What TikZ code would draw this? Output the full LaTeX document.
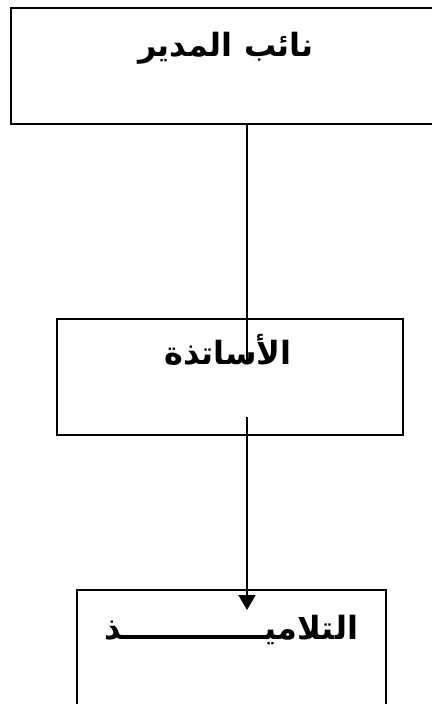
\documentclass[tikz,border=0pt]{standalone}
\usepackage{fontspec}
\newfontfamily\arabicfont[Script=Arabic]{DejaVu Sans}
\TeXXeTstate=1
\usetikzlibrary{arrows.meta}
\begin{document}
\begin{tikzpicture}[x=1pt,y=-1pt,
  boxstyle/.style={draw=black, line width=#1, inner sep=0pt, anchor=north west},
  boxstyle/.default=1.8pt,
  lbl/.style={font=\arabicfont\bfseries\fontsize{32}{38}\selectfont, inner sep=0pt, anchor=center},
  conn/.style={line width=2pt}]
\useasboundingbox (0,0) rectangle (431,704);
\node[boxstyle=2.4pt, minimum width=432pt, minimum height=116pt] (b1) at (10,7) {};
\node[boxstyle, minimum width=346pt, minimum height=116pt] (b2) at (56,318) {};
\node[boxstyle, minimum width=309pt, minimum height=130pt] (b3) at (76,589) {};
\node[lbl] (t1) at (226,48) {\beginR نائب المدير\endR};
\node[lbl] (t2) at (228,350) {\beginR الأساتذة\endR};
\node[lbl] (t3) at (231,630) {\beginR التلاميـــــــــــــذ\endR};
\coordinate (c1) at (247,362);
\coordinate (c2) at (247,417);
\coordinate (c3) at (247,610);
\draw[conn] (b1.south -| c1) -- (c1);
\draw[conn, -{Triangle[width=17pt,length=15pt]}] (c2) -- (c3);
\end{tikzpicture}
\end{document}
